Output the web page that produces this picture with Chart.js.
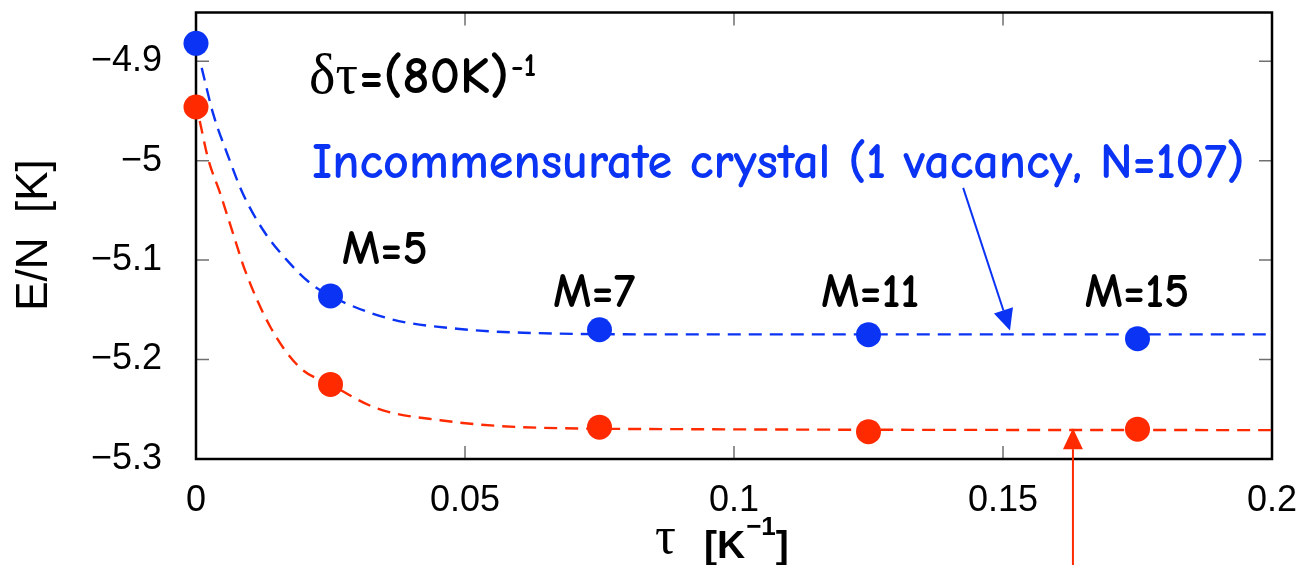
<!DOCTYPE html>
<html>
<head>
<meta charset="utf-8">
<title>E/N vs tau</title>
<script src="https://cdn.jsdelivr.net/npm/chart.js@4.4.1/dist/chart.umd.min.js"></script>
<style>
  body { margin: 0; background: #fff; }
  canvas { display: block; }
</style>
</head>
<body>
<canvas id="energyChart" width="1299" height="565"></canvas>
<script>
// PIGS energies per particle, one point per number of beads M
const tau = [0, 0.025, 0.075, 0.125, 0.175];
const beadLabels = ["", "M=5", "M=7", "M=11", "M=15"];
const incommE = [-4.882, -5.136, -5.170, -5.175, -5.179];
const commE = [-4.946, -5.225, -5.268, -5.2725, -5.270];

// fitted curves (dashed)
const incommFitTau = [0.00106, 0.0032, 0.0058, 0.0087, 0.0125, 0.0169, 0.0212, 0.025, 0.036, 0.0485, 0.0608, 0.091, 0.2];
const incommFitE = [-4.9067, -4.953, -4.993, -5.033, -5.070, -5.100, -5.123, -5.136, -5.159, -5.169, -5.173, -5.1747, -5.1747];
const commFitTau = [0.0007, 0.0022, 0.0045, 0.0067, 0.0091, 0.0138, 0.0193, 0.025, 0.0336, 0.0454, 0.0608, 0.091, 0.2];
const commFitE = [-4.960, -4.997, -5.033, -5.070, -5.110, -5.167, -5.208, -5.225, -5.249, -5.261, -5.268, -5.270, -5.271];

const xTicks = [0, 0.05, 0.1, 0.15, 0.2];
const xTickLabels = ["0", "0.05", "0.1", "0.15", "0.2"];
const yTicks = [-5.3, -5.2, -5.1, -5, -4.9];
const yTickLabels = ["\u22125.3", "\u22125.2", "\u22125.1", "\u22125", "\u22124.9"];

const BLUE = "#0a33f4";
const RED = "#ff2a00";
const HAND = "'Comic Sans MS', 'Comic Neue', 'Open Sans', sans-serif";
const SANS = "'Liberation Sans', Arial, sans-serif";
const SERIF = "'Liberation Serif', 'Times New Roman', serif";

const pts = (xs, ys) => xs.map((x, i) => ({ x: x, y: ys[i] }));

// font size that makes text span the given width
function fitSize(ctx, text, family, weight, width) {
  ctx.font = weight + " 100px " + family;
  return 100 * width / ctx.measureText(text).width;
}

function arrow(ctx, x0, y0, x1, y1, color) {
  const ang = Math.atan2(y1 - y0, x1 - x0);
  const len = 21, half = 10;
  const bx = x1 - len * Math.cos(ang), by = y1 - len * Math.sin(ang);
  ctx.strokeStyle = color;
  ctx.fillStyle = color;
  ctx.lineWidth = 2;
  ctx.beginPath();
  ctx.moveTo(x0, y0);
  ctx.lineTo(bx, by);
  ctx.stroke();
  ctx.beginPath();
  ctx.moveTo(x1, y1);
  ctx.lineTo(bx + half * Math.sin(ang), by - half * Math.cos(ang));
  ctx.lineTo(bx - half * Math.sin(ang), by + half * Math.cos(ang));
  ctx.closePath();
  ctx.fill();
}

// no extra room for half-labels at the scale ends
function noPad(sc) {
  sc.paddingTop = 0; sc.paddingBottom = 0;
  sc.paddingLeft = 0; sc.paddingRight = 0;
}

const frame = {
  id: "frame",
  beforeDatasetsDraw(chart) {
    const { ctx, chartArea: a, scales: { x, y } } = chart;
    ctx.save();
    ctx.strokeStyle = "#707070";
    ctx.lineWidth = 1.5;
    ctx.beginPath();
    xTicks.forEach(v => {
      const px = x.getPixelForValue(v);
      ctx.moveTo(px, a.bottom); ctx.lineTo(px, a.bottom - 13);
      ctx.moveTo(px, a.top); ctx.lineTo(px, a.top + 13);
    });
    yTicks.forEach(v => {
      const py = y.getPixelForValue(v);
      ctx.moveTo(a.left, py); ctx.lineTo(a.left + 13, py);
      ctx.moveTo(a.right, py); ctx.lineTo(a.right - 13, py);
    });
    ctx.stroke();
    ctx.strokeStyle = "#000";
    ctx.lineWidth = 2.5;
    ctx.strokeRect(a.left, a.top, a.right - a.left, a.bottom - a.top);
    ctx.restore();
  },
  afterDatasetsDraw(chart) {
    const { ctx, scales: { x, y } } = chart;
    ctx.save();
    ctx.textBaseline = "alphabetic";

    // axis titles
    ctx.fillStyle = "#000";
    ctx.save();
    ctx.translate(35, 235);
    ctx.rotate(-Math.PI / 2);
    ctx.textAlign = "center";
    ctx.textBaseline = "middle";
    ctx.font = "44px " + SANS;
    ctx.fillText("E/N  [K]", 0, 0);
    ctx.restore();

    ctx.textAlign = "left";
    let cx = 655;
    ctx.font = "52px " + SERIF;
    ctx.fillText("\u03c4", cx, 553);
    cx = 704;
    ctx.font = "bold 39px " + SANS;
    ctx.fillText("[K", cx, 558);
    cx += ctx.measureText("[K").width + 1;
    ctx.font = "bold 26px " + SANS;
    ctx.fillText("\u22121", cx, 535);
    cx += ctx.measureText("\u22121").width;
    ctx.font = "bold 39px " + SANS;
    ctx.fillText("]", cx, 558);

    // step size note
    cx = 309;
    ctx.font = "56px " + SERIF;
    ctx.fillText("\u03b4\u03c4", cx, 93);
    cx += ctx.measureText("\u03b4\u03c4").width + 1;
    let s = fitSize(ctx, "=(80K)", HAND, "600", 150);
    ctx.font = "600 " + s + "px " + HAND;
    ctx.fillText("=(80K)", cx, 93);
    cx += ctx.measureText("=(80K)").width + 2;
    ctx.font = "600 " + (s * 0.6) + "px " + HAND;
    ctx.fillText("-1", cx, 76);

    // series label
    ctx.fillStyle = BLUE;
    const lab = "Incommensurate crystal (1 vacancy, N=107)";
    s = fitSize(ctx, lab, HAND, "600", 933);
    ctx.font = "600 " + s + "px " + HAND;
    ctx.fillText(lab, 312, 178);

    // bead labels above the points
    ctx.fillStyle = "#000";
    ctx.textAlign = "center";
    s = fitSize(ctx, "M=15", HAND, "600", 105);
    ctx.font = "600 " + s + "px " + HAND;
    const labelPos = [null, [0.0351, -5.1035], [0.074, -5.1476], [0.1253, -5.1476], [0.1749, -5.1476]];
    beadLabels.forEach((t, i) => {
      if (!t) return;
      ctx.fillText(t, x.getPixelForValue(labelPos[i][0]), y.getPixelForValue(labelPos[i][1]));
    });

    // arrows pointing at the two fitted curves
    arrow(ctx, x.getPixelForValue(0.1426), y.getPixelForValue(-5.0273),
      x.getPixelForValue(0.1513), y.getPixelForValue(-5.1707), BLUE);
    const rx = x.getPixelForValue(0.163);
    arrow(ctx, rx, chart.height, rx, y.getPixelForValue(-5.269), RED);
    ctx.restore();
  }
};

new Chart(document.getElementById("energyChart"), {
  type: "scatter",
  data: {
    datasets: [
      {
        data: pts(tau, incommE), backgroundColor: BLUE, borderColor: BLUE,
        pointRadius: 12.5, borderWidth: 0, clip: false
      },
      {
        data: pts(tau, commE), backgroundColor: RED, borderColor: RED,
        pointRadius: 12.5, borderWidth: 0, clip: false
      },
      {
        data: pts(incommFitTau, incommFitE), showLine: true, borderColor: BLUE,
        borderWidth: 2.4, borderDash: [13, 8], pointRadius: 0, cubicInterpolationMode: "monotone"
      },
      {
        data: pts(commFitTau, commFitE), showLine: true, borderColor: RED,
        borderWidth: 2.4, borderDash: [13, 8], pointRadius: 0, cubicInterpolationMode: "monotone"
      }
    ]
  },
  options: {
    responsive: false,
    animation: false,
    devicePixelRatio: 1,
    layout: { padding: { left: 0, right: 27, top: 11, bottom: 0 } },
    plugins: { legend: { display: false }, tooltip: { enabled: false } },
    scales: {
      x: {
        type: "linear", min: 0, max: 0.2,
        grid: { display: false }, border: { display: false },
        afterBuildTicks: sc => { sc.ticks = xTicks.map(v => ({ value: v })); },
        afterFit: sc => { sc.height = 106; noPad(sc); },
        ticks: {
          padding: 12, color: "#000", maxRotation: 0,
          font: { family: SANS, size: 36 },
          callback: v => xTickLabels[xTicks.indexOf(v)]
        }
      },
      y: {
        type: "linear", min: -5.3, max: -4.851,
        grid: { display: false }, border: { display: false },
        afterBuildTicks: sc => { sc.ticks = yTicks.map(v => ({ value: v })); },
        afterFit: sc => { sc.width = 196; noPad(sc); },
        ticks: {
          padding: 26, color: "#000",
          font: { family: SANS, size: 36 },
          callback: v => yTickLabels[yTicks.indexOf(v)]
        }
      }
    }
  },
  plugins: [frame]
});
</script>
</body>
</html>
